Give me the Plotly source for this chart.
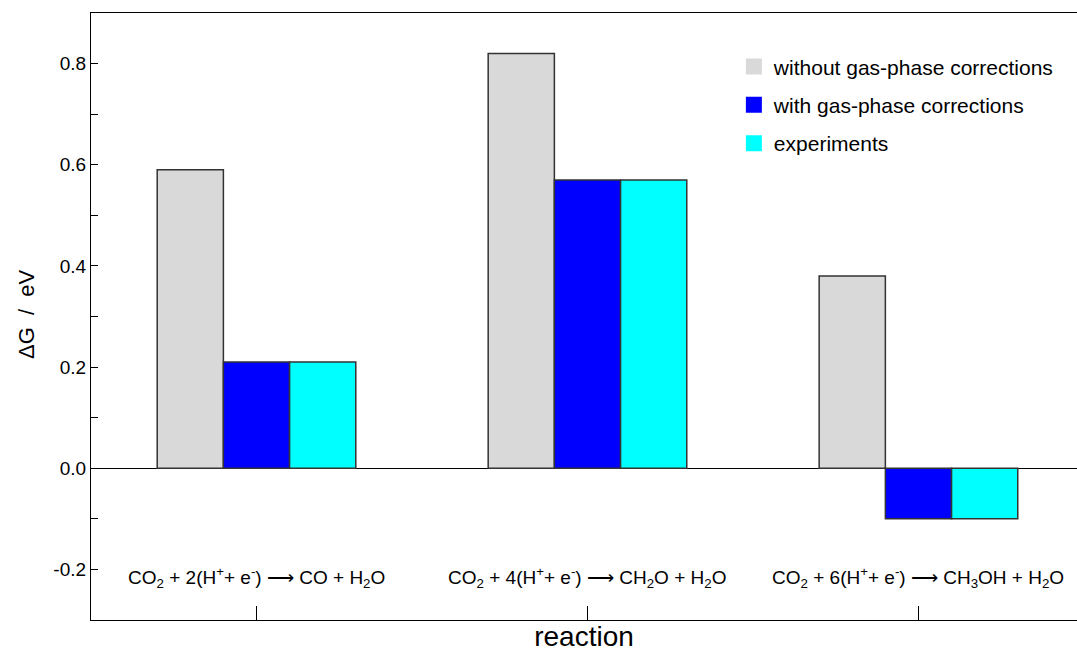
import plotly.graph_objects as go

categories = ["r1", "r2", "r3"]
category_labels = [
    "CO<sub>2</sub> + 2(H<sup>+</sup>+ e<sup>-</sup>) ⟶ CO + H<sub>2</sub>O",
    "CO<sub>2</sub> + 4(H<sup>+</sup>+ e<sup>-</sup>) ⟶ CH<sub>2</sub>O + H<sub>2</sub>O",
    "CO<sub>2</sub> + 6(H<sup>+</sup>+ e<sup>-</sup>) ⟶ CH<sub>3</sub>OH + H<sub>2</sub>O",
]
without_corr = [0.59, 0.82, 0.38]
with_corr = [0.21, 0.57, -0.10]
experiments = [0.21, 0.57, -0.10]

series_names = ["without gas-phase corrections", "with gas-phase corrections", "experiments"]
series_colors = ["#d9d9d9", "#0000ff", "#00ffff"]
series_values = [without_corr, with_corr, experiments]

FONT = "Liberation Sans, Arial, Helvetica, sans-serif"

fig = go.Figure()
for name, color, vals in zip(series_names, series_colors, series_values):
    fig.add_trace(go.Bar(
        x=categories, y=vals, name=name, showlegend=False,
        marker=dict(color=color, line=dict(color="#333333", width=1.5)),
    ))
for i, (name, color) in enumerate(zip(series_names, series_colors)):
    fig.add_trace(go.Scatter(
        x=[None], y=[None], mode="markers", name=name, legendgroup=f"g{i}",
        marker=dict(symbol="square", size=16, color=color, line=dict(width=0)),
    ))

for cat, lab in zip(categories, category_labels):
    fig.add_annotation(x=cat, y=-0.216, xref="x", yref="y", text=lab, showarrow=False,
                       font=dict(family=FONT, size=19, color="black"), xanchor="center", yanchor="middle")

fig.add_annotation(x=(26 - 91) / 986, y=(620 - 314) / 607, xref="paper", yref="paper",
                   text="ΔG\u00a0\u00a0/\u00a0\u00a0eV", xanchor="center", yanchor="middle",
                   showarrow=False, textangle=-90, font=dict(family=FONT, size=22, color="black"))

fig.update_layout(
    width=1077, height=655,
    margin=dict(l=91, r=0, t=13, b=35),
    paper_bgcolor="white", plot_bgcolor="white",
    barmode="group", bargap=0.4, bargroupgap=0,
    font=dict(family=FONT, color="black"),
    legend=dict(x=0.652, y=0.945, xanchor="left", yanchor="top", bgcolor="rgba(0,0,0,0)",
                font=dict(family=FONT, size=21), tracegroupgap=8, traceorder="grouped"),
)
fig.update_xaxes(
    range=[-0.5, 2.479], showticklabels=False, ticks="inside", ticklen=14, tickcolor="black",
    showline=True, linecolor="black", linewidth=1.2, mirror=True, showgrid=False,
    title=dict(text="reaction", font=dict(family=FONT, size=28), standoff=6),
)
fig.update_yaxes(
    range=[-0.3, 0.9], tickvals=[-0.2, 0.0, 0.2, 0.4, 0.6, 0.8],
    ticktext=["-0.2", "0.0", "0.2", "0.4", "0.6", "0.8"],
    ticks="inside", ticklen=7, tickcolor="black",
    minor=dict(tickvals=[-0.3, -0.1, 0.1, 0.3, 0.5, 0.7, 0.9], ticks="inside", ticklen=7, tickcolor="black"),
    tickfont=dict(family=FONT, size=19),
    showline=True, linecolor="black", linewidth=1.2, showgrid=False,
    zeroline=True, zerolinecolor="black", zerolinewidth=1,
)
fig.write_html("out.html")
